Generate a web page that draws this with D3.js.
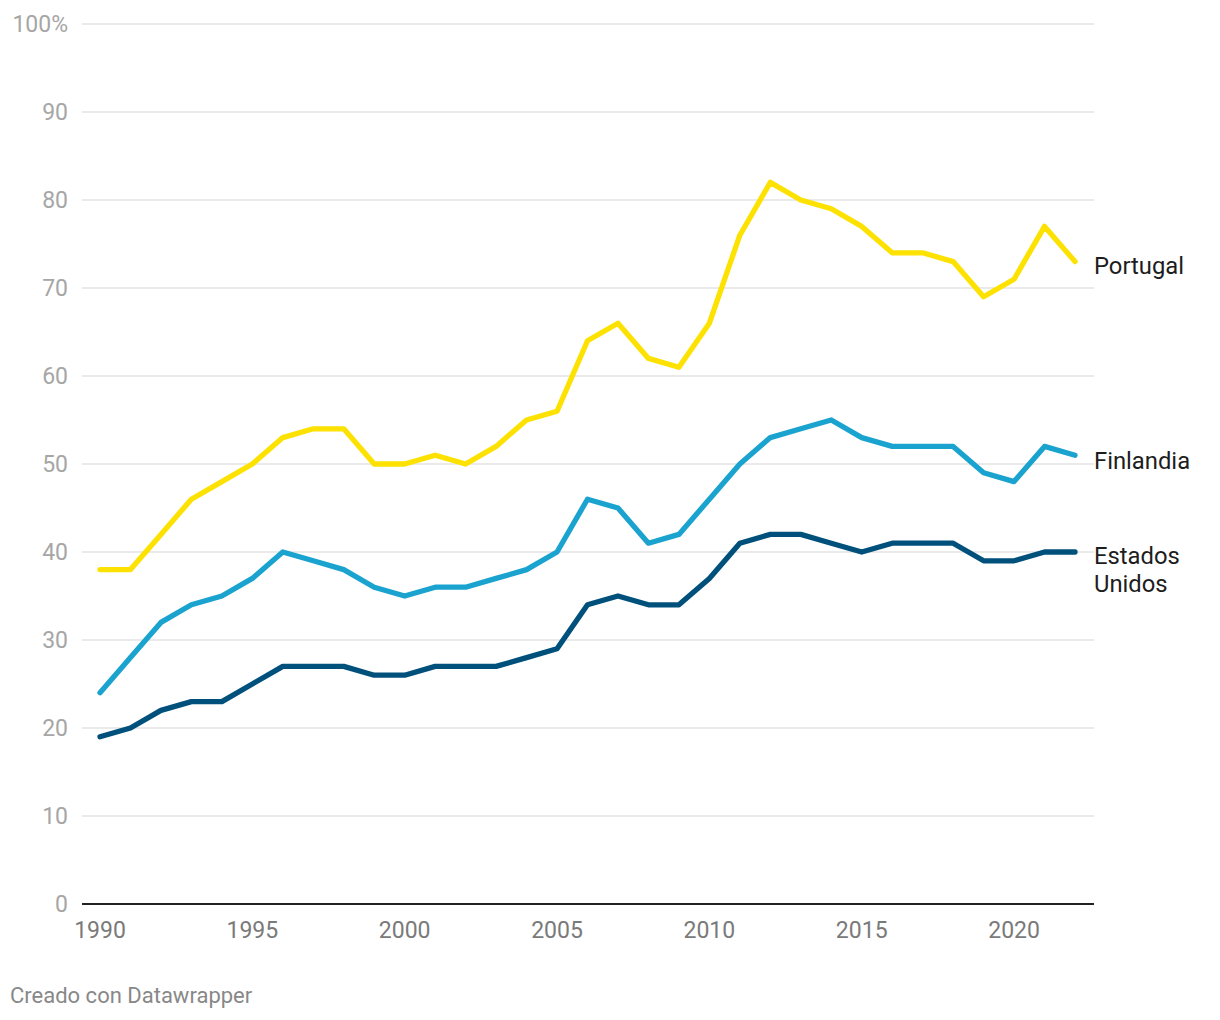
<!DOCTYPE html>
<html><head><meta charset="utf-8">
<script src="https://cdn.jsdelivr.net/npm/d3@7"></script>
<style>
body{margin:0;background:#fff;font-family:Roboto,"Noto Sans",sans-serif;}
</style></head><body>
<svg id="c" width="1220" height="1020"></svg>
<script>
const years = d3.range(1990, 2023);
const portugal = [38,38,42,46,48,50,53,54,54,50,50,51,50,52,55,56,64,66,62,61,66,76,82,80,79,77,74,74,73,69,71,77,73];
const finlandia = [24,28,32,34,35,37,40,39,38,36,35,36,36,37,38,40,46,45,41,42,46,50,53,54,55,53,52,52,52,49,48,52,51];
const eeuu = [19,20,22,23,23,25,27,27,27,26,26,27,27,27,28,29,34,35,34,34,37,41,42,42,41,40,41,41,41,39,39,40,40];
const seriesNames = ["Portugal","Finlandia","Estados Unidos"];
const seriesColors = ["#fde100","#1ba3cf","#00507c"];
const yTicks = [0,10,20,30,40,50,60,70,80,90,100];
const xTicks = [1990,1995,2000,2005,2010,2015,2020];
const footer = "Creado con Datawrapper";

const svg = d3.select("#c");
const x = d3.scaleLinear().domain([1990,2022]).range([100,1075]);
const y = d3.scaleLinear().domain([0,100]).range([904,24]);

svg.append("g").selectAll("line").data(yTicks.filter(d=>d>0)).join("line")
  .attr("x1",82).attr("x2",1094).attr("y1",d=>y(d)).attr("y2",d=>y(d))
  .attr("stroke","#e3e3e3").attr("stroke-width",1.5);
svg.append("g").selectAll("text").data(yTicks).join("text")
  .attr("x",68).attr("y",d=>y(d)).attr("dy","0.35em").attr("text-anchor","end")
  .attr("fill","#a6a6a6").attr("font-size",23)
  .text(d=>d===100?"100%":d);
svg.append("line").attr("x1",82).attr("x2",1094).attr("y1",y(0)).attr("y2",y(0))
  .attr("stroke","#222").attr("stroke-width",1.8);
svg.append("g").selectAll("text").data(xTicks).join("text")
  .attr("x",d=>x(d)).attr("y",938).attr("text-anchor","middle")
  .attr("fill","#7a7a7a").attr("font-size",23).text(d=>d);

const all = [portugal, finlandia, eeuu];
const line = d3.line().x((d,i)=>x(years[i])).y(d=>y(d));
all.slice().reverse().forEach((vals,ri)=>{
  const i = all.length-1-ri;
  svg.append("path").attr("d",line(vals)).attr("fill","none")
    .attr("stroke",seriesColors[i]).attr("stroke-width",5.3)
    .attr("stroke-linejoin","round").attr("stroke-linecap","round");
});
const lab = svg.append("g").attr("font-size",23.8).attr("fill","#1d1d1d");
lab.append("text").attr("x",1094).attr("y",y(portugal[32])+4).attr("dy","0.35em").text("Portugal");
lab.append("text").attr("x",1094).attr("y",y(finlandia[32])+5).attr("dy","0.35em").text("Finlandia");
const t = lab.append("text").attr("x",1094).attr("y",y(eeuu[32])+4).attr("dy","0.35em");
t.append("tspan").attr("x",1094).text("Estados");
t.append("tspan").attr("x",1094).attr("dy",28).text("Unidos");

svg.append("text").attr("x",10).attr("y",1003).attr("fill","#888").attr("font-size",22).text(footer);
</script></body></html>
